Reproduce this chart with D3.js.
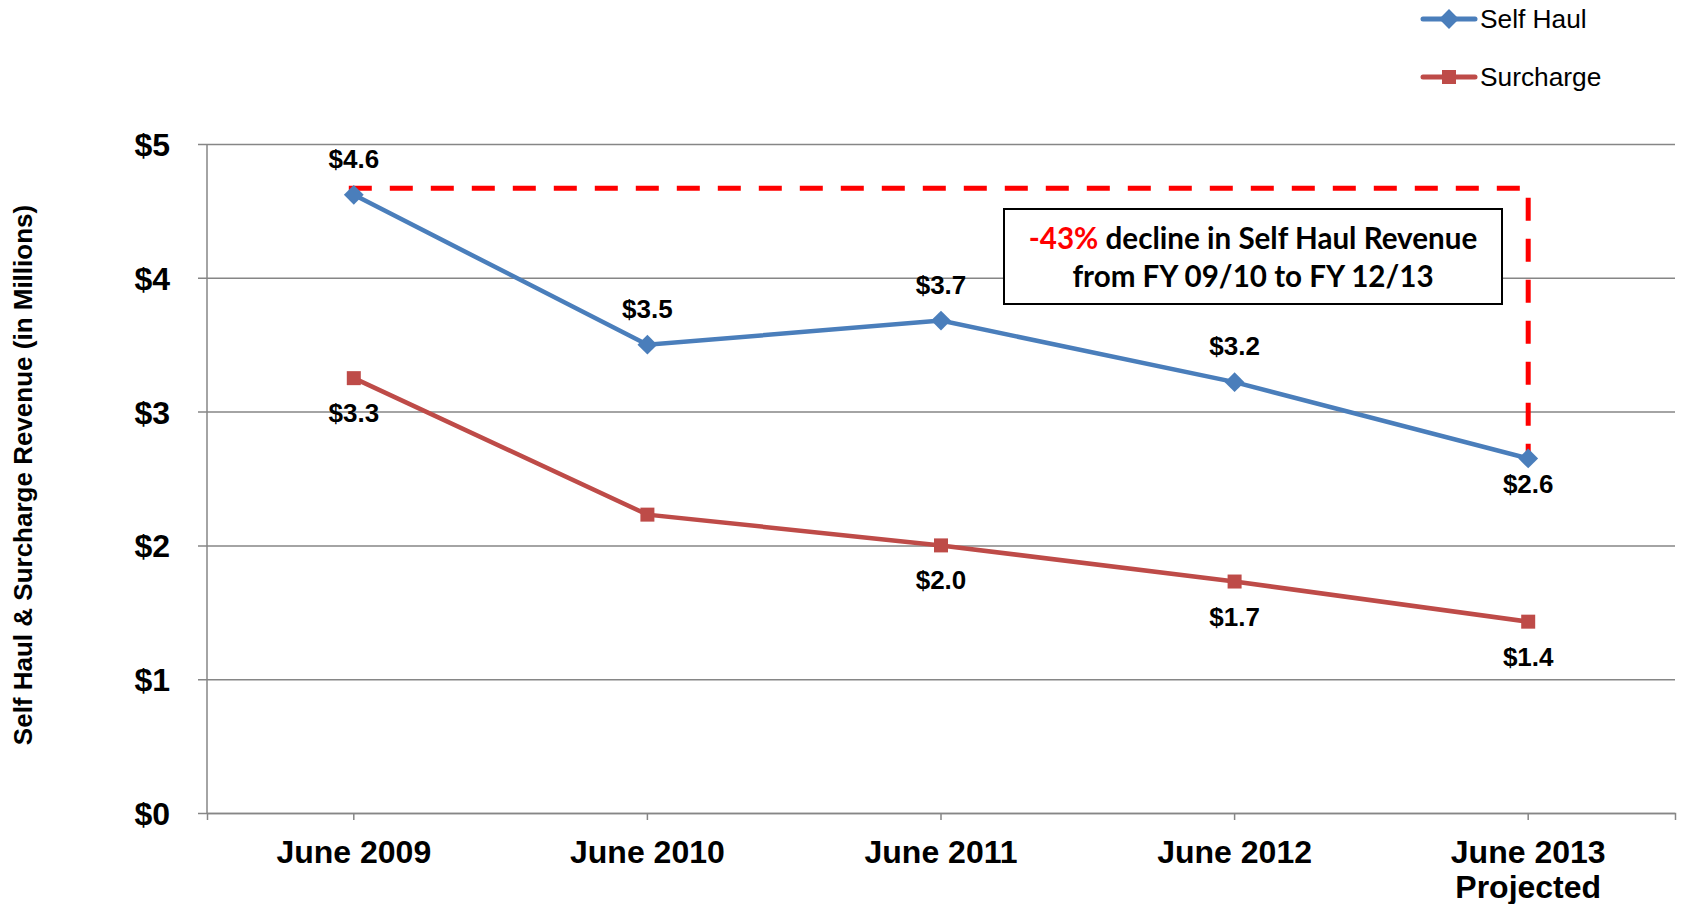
<!DOCTYPE html>
<html>
<head>
<meta charset="utf-8">
<script src="https://cdn.jsdelivr.net/npm/d3@7"></script>
<style>
  body { margin: 0; background: #fff; }
  svg { display: block; }
</style>
</head>
<body>
<div id="chart"></div>
<script>
// data
const categories = ['June 2009', 'June 2010', 'June 2011', 'June 2012', 'June 2013\nProjected'];
const selfHaul = [4.62, 3.50, 3.68, 3.22, 2.65];
const surcharge = [3.25, 2.23, 2.00, 1.73, 1.43];
const selfHaulLabels = ['$4.6', '$3.5', '$3.7', '$3.2', '$2.6'];
const surchargeLabels = ['$3.3', '', '$2.0', '$1.7', '$1.4'];
const yTicks = [0, 1, 2, 3, 4, 5];
const declineLevel = 4.67;

const W = 1684, H = 904;
const margin = {top: 144, right: 9, bottom: 91, left: 207};

const svg = d3.select('#chart').append('svg')
    .attr('width', W)
    .attr('height', H);

const x = d3.scaleBand()
    .domain(categories)
    .range([margin.left, W - margin.right])
    .padding(0);
const cx = c => x(c) + x.bandwidth() / 2;

const y = d3.scaleLinear()
    .domain([0, 5])
    .range([H - margin.bottom, margin.top]);

const grey = '#868686';
const blue = '#4A7EBB';
const red = '#BE4B48';

// gridlines + y axis
const yAxis = d3.axisLeft(y)
    .tickValues(yTicks)
    .tickSize(-(W - margin.right - margin.left))
    .tickFormat(d => '$' + d);

const yg = svg.append('g')
    .attr('transform', 'translate(' + margin.left + ',0)')
    .call(yAxis);
yg.select('.domain').remove();
yg.selectAll('.tick line')
    .attr('x1', -9)
    .attr('stroke', grey)
    .attr('stroke-width', 1.5);
yg.selectAll('.tick text')
    .attr('x', -37)
    .attr('dy', '0.36em')
    .attr('fill', '#000')
    .style('font-family', 'Liberation Sans, Arial, sans-serif')
    .style('font-weight', 'bold')
    .style('font-size', '32px');

svg.append('line')
    .attr('x1', margin.left).attr('x2', margin.left)
    .attr('y1', margin.top).attr('y2', y(0))
    .attr('stroke', grey).attr('stroke-width', 1.5);

// x axis
const xAxis = d3.axisBottom(x)
    .tickSizeInner(7)
    .tickSizeOuter(7)
    .tickFormat('');
const xg = svg.append('g')
    .attr('transform', 'translate(0,' + y(0) + ')')
    .call(xAxis);
xg.select('.domain').attr('stroke', grey).attr('stroke-width', 1.5);
xg.selectAll('.tick line').attr('stroke', grey).attr('stroke-width', 1.5);

const xl = svg.append('g')
    .selectAll('text')
    .data(categories)
    .join('text')
    .attr('x', d => cx(d))
    .attr('y', 863)
    .attr('text-anchor', 'middle')
    .style('font-family', 'Liberation Sans, Arial, sans-serif')
    .style('font-weight', 'bold')
    .style('font-size', '32px');
xl.selectAll('tspan')
    .data(d => d.split('\n'))
    .join('tspan')
    .attr('x', function() { return this.parentNode.getAttribute('x'); })
    .attr('dy', (d, i) => i ? 35 : 0)
    .text(d => d);

// y axis title
svg.append('text')
    .attr('transform', 'translate(32,' + 475 + ') rotate(-90)')
    .attr('text-anchor', 'middle')
    .style('font-family', 'Liberation Sans, Arial, sans-serif')
    .style('font-weight', 'bold')
    .style('font-size', '26px')
    .text('Self Haul & Surcharge Revenue (in Millions)');

// decline annotation (dashed)
const c0 = cx(categories[0]);
const c4 = cx(categories[4]);
svg.append('path')
    .attr('d', d3.line()([
        [c0 - 5, y(declineLevel)],
        [c4, y(declineLevel)],
        [c4, y(selfHaul[4]) - 3]
    ]))
    .attr('fill', 'none')
    .attr('stroke', '#FF0000')
    .attr('stroke-width', 5)
    .attr('stroke-dasharray', '23,18');

// series
const line = d3.line()
    .x((d, i) => cx(categories[i]))
    .y(d => y(d));

svg.append('path')
    .datum(surcharge)
    .attr('d', line)
    .attr('fill', 'none')
    .attr('stroke', red)
    .attr('stroke-width', 4.5);

svg.append('path')
    .datum(selfHaul)
    .attr('d', line)
    .attr('fill', 'none')
    .attr('stroke', blue)
    .attr('stroke-width', 4.5);

const diamond = d3.symbol().type(d3.symbolDiamond2).size(250);
const square = d3.symbol().type(d3.symbolSquare).size(196);

svg.append('g').selectAll('path')
    .data(surcharge)
    .join('path')
    .attr('transform', (d, i) => 'translate(' + cx(categories[i]) + ',' + y(d) + ')')
    .attr('d', square)
    .attr('fill', red);

svg.append('g').selectAll('path')
    .data(selfHaul)
    .join('path')
    .attr('transform', (d, i) => 'translate(' + cx(categories[i]) + ',' + y(d) + ')')
    .attr('d', diamond)
    .attr('fill', blue);

// data labels
const labelFont = sel => sel
    .attr('text-anchor', 'middle')
    .style('font-family', 'Liberation Sans, Arial, sans-serif')
    .style('font-weight', 'bold')
    .style('font-size', '26px');

svg.append('g').selectAll('text')
    .data(selfHaul)
    .join('text')
    .attr('x', (d, i) => cx(categories[i]))
    .attr('y', (d, i) => i === 4 ? y(d) + 35 : y(d) - 27)
    .text((d, i) => selfHaulLabels[i])
    .call(labelFont);

svg.append('g').selectAll('text')
    .data(surcharge)
    .join('text')
    .attr('x', (d, i) => cx(categories[i]))
    .attr('y', d => y(d) + 44)
    .text((d, i) => surchargeLabels[i])
    .call(labelFont);

// annotation box
const box = svg.append('g');
box.append('rect')
    .attr('x', 1004).attr('y', 209)
    .attr('width', 498).attr('height', 95)
    .attr('fill', '#fff')
    .attr('stroke', '#000')
    .attr('stroke-width', 2);
const bt = box.append('text')
    .attr('x', 1253).attr('y', 249)
    .attr('text-anchor', 'middle')
    .style('font-family', 'Lato, Open Sans, sans-serif')
    .style('font-weight', 'bold')
    .style('font-size', '29.6px');
bt.append('tspan').attr('fill', '#FF0000').text('-43%');
bt.append('tspan').attr('fill', '#000').text(' decline in Self Haul Revenue');
box.append('text')
    .attr('x', 1253).attr('y', 287)
    .attr('text-anchor', 'middle')
    .style('font-family', 'Lato, Open Sans, sans-serif')
    .style('font-weight', 'bold')
    .style('font-size', '29.6px')
    .text('from FY 09/10 to FY 12/13');

// legend
const legend = [
    {name: 'Self Haul', color: blue, sym: diamond, y: 19},
    {name: 'Surcharge', color: red, sym: square, y: 77}
];
const lg = svg.append('g').selectAll('g')
    .data(legend)
    .join('g')
    .attr('transform', d => 'translate(1423,' + d.y + ')');
lg.append('line')
    .attr('x1', 0).attr('x2', 52)
    .attr('stroke', d => d.color)
    .attr('stroke-width', 5)
    .attr('stroke-linecap', 'round');
lg.append('path')
    .attr('transform', 'translate(26,0)')
    .attr('d', d => d.sym())
    .attr('fill', d => d.color);
lg.append('text')
    .attr('x', 57)
    .attr('y', 9)
    .style('font-family', 'Liberation Sans, Arial, sans-serif')
    .style('font-size', '26.3px')
    .text(d => d.name);
</script>
</body>
</html>
